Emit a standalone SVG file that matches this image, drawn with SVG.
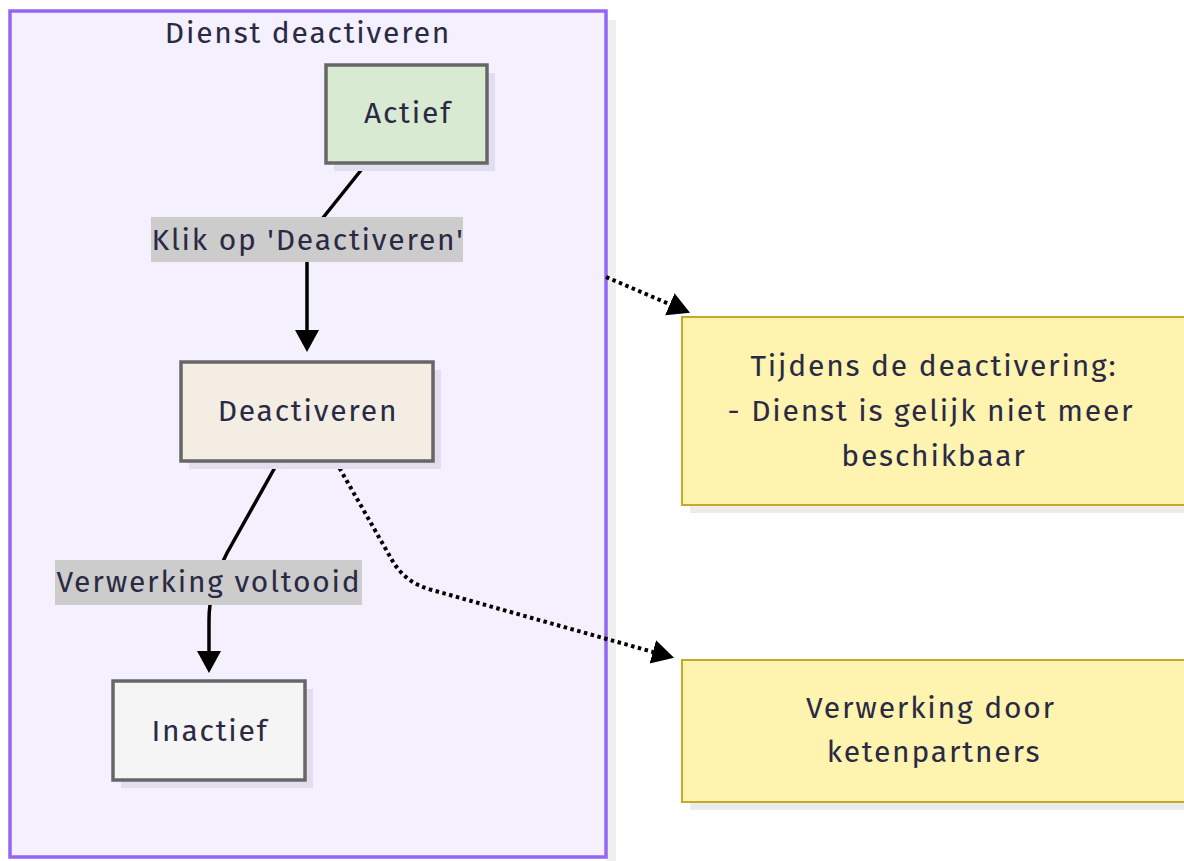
<svg xmlns="http://www.w3.org/2000/svg" width="1184" height="861" viewBox="0 0 1184 861">
<defs>
<style>
text{font-family:"Fira Sans","Noto Sans","Open Sans",sans-serif;font-size:30px;letter-spacing:1.8px;fill:#2a2a44;text-anchor:middle;dominant-baseline:central}
.node{stroke:#666666;stroke-width:3.5}
.nshadow{fill:#e2deef}
.note{fill:#fff3b0;stroke:#c4ab26;stroke-width:2}
.notesh{fill:#ececec}
.edge{fill:none;stroke:#000;stroke-width:3.5}
.dot{fill:none;stroke:#000;stroke-width:4;stroke-dasharray:3.5 3.5}
.lbl{fill:#cccccc}
</style>
<marker id="arr" markerUnits="userSpaceOnUse" markerWidth="24" markerHeight="26" refX="4" refY="12" orient="auto" viewBox="0 0 24 26">
<path d="M0,0 L22,12 L0,24 z" fill="#000"/>
</marker>
</defs>
<rect width="1184" height="861" fill="#ffffff"/>
<g id="cluster">
<rect x="606" y="20" width="10" height="841" fill="#efefef"/>
<rect x="10" y="11" width="596" height="846" fill="#f4f0fe" stroke="#9366f5" stroke-width="3.5"/>
<text x="308" y="33">Dienst deactiveren</text>
</g>
<g id="connectors">
<path class="edge" d="M366,164 L322,219 Q307,238 307,262 L307,334" marker-end="url(#arr)"/>
<path class="edge" d="M278,462 L227,553 Q209,588 209,620 L209,655" marker-end="url(#arr)"/>
<path class="dot" d="M606,277 L673.5,305.8" marker-end="url(#arr)"/>
<path class="dot" d="M336,462 L392,560 Q405,583 432,590 L656.7,653" marker-end="url(#arr)"/>
<g id="label1">
<rect class="lbl" x="151" y="217" width="312" height="45"/>
<text x="308" y="240">Klik op 'Deactiveren'</text>
</g>
<g id="label2">
<rect class="lbl" x="55" y="560" width="307" height="45"/>
<text x="209" y="582">Verwerking voltooid</text>
</g>
</g>
<g id="actief">
<rect class="nshadow" x="334" y="73" width="161" height="98"/>
<rect class="node" x="326" y="65" width="161" height="98" fill="#d9ead3"/>
<text x="408" y="113">Actief</text>
</g>
<g id="deactiveren">
<rect class="nshadow" x="189" y="370" width="252" height="99"/>
<rect class="node" x="181" y="362" width="252" height="99" fill="#f3ede3"/>
<text x="308" y="411">Deactiveren</text>
</g>
<g id="inactief">
<rect class="nshadow" x="121" y="689" width="192" height="99"/>
<rect class="node" x="113" y="681" width="192" height="99" fill="#f5f5f5"/>
<text x="210" y="731">Inactief</text>
</g>
<g id="note1">
<rect class="notesh" x="690" y="325" width="510" height="188"/>
<rect class="note" x="682" y="317" width="510" height="188"/>
<text x="934" y="366">Tijdens de deactivering:</text>
<text x="931" y="411">- Dienst is gelijk niet meer</text>
<text x="934" y="456">beschikbaar</text>
</g>
<g id="note2">
<rect class="notesh" x="690" y="668" width="510" height="142"/>
<rect class="note" x="682" y="660" width="510" height="142"/>
<text x="931" y="708">Verwerking door</text>
<text x="934" y="752">ketenpartners</text>
</g>
</svg>
